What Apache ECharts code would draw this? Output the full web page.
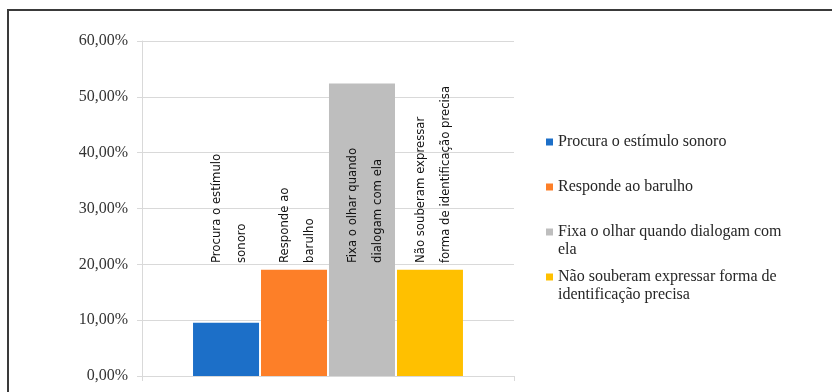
<!DOCTYPE html>
<html>
<head>
<meta charset="utf-8">
<script src="https://cdn.jsdelivr.net/npm/echarts@6/dist/echarts.min.js"></script>
<style>
    html, body { margin: 0; padding: 0; background: #fff; }
    #chart { width: 832px; height: 392px; }
</style>
</head>
<body>
<div id="chart"></div>
<script>
const categories = [''];
const seriesNames = [
    'Procura o estímulo sonoro',
    'Responde ao barulho',
    'Fixa o olhar quando dialogam com ela',
    'Não souberam expressar forma de identificação precisa'
];
const barLabels = [
    'Procura o estímulo\nsonoro',
    'Responde ao\nbarulho',
    'Fixa o olhar quando\ndialogam com ela',
    'Não souberam expressar\nforma de identificação precisa'
];
const values = [9.52, 19.05, 52.38, 19.05];
const yTicks = { min: 0, max: 60, interval: 10 };

const palette = ['#1c6fc8', '#fd7f28', '#bebebe', '#ffc000'];
const serif = "'Liberation Serif', 'Times New Roman', serif";
const narrow = "'DejaVu Sans Condensed', 'Liberation Sans Narrow', sans-serif";
const gridColor = '#d9d9d9';

const myChart = echarts.init(document.getElementById('chart'));

// one legend per item, so the rows keep the even spacing of the original.
// two-line items get a taller icon box with the square at its top,
// so the marker sits next to the first line
const legendTops = [133, 178, 223, 268];
const squareTop = 'path://M0,0L7,0L7,7L0,7Z M0,25L0,25';
const legends = seriesNames.map((name, i) => ({
    data: [name],
    orient: 'vertical',
    left: 546,
    top: legendTops[i],
    padding: 0,
    icon: i >= 2 ? squareTop : 'rect',
    itemWidth: 7,
    itemHeight: i >= 2 ? 25 : 7,
    selectedMode: false,
    textStyle: {
        fontFamily: serif,
        fontSize: 16,
        lineHeight: 18,
        color: '#262626',
        width: 235,
        overflow: 'break'
    }
}));

const option = {
    animation: false,
    color: palette,
    graphic: [{
        type: 'rect',
        shape: { x: 8, y: 10, width: 900, height: 500 },
        style: { fill: 'none', stroke: '#3a3a3a', lineWidth: 2 },
        silent: true
    }],
    grid: { left: 142, top: 41, width: 372, height: 335 },
    legend: legends,
    xAxis: {
        type: 'category',
        data: categories,
        axisLine: { lineStyle: { color: gridColor } },
        axisTick: { show: true, length: 5, lineStyle: { color: gridColor } },
        axisLabel: { show: false }
    },
    yAxis: {
        type: 'value',
        min: yTicks.min,
        max: yTicks.max,
        interval: yTicks.interval,
        axisLine: { show: true, lineStyle: { color: gridColor } },
        axisTick: { show: true, length: 5, lineStyle: { color: gridColor } },
        splitLine: { lineStyle: { color: gridColor } },
        axisLabel: {
            margin: 14,
            fontFamily: serif,
            fontSize: 16,
            color: '#333',
            formatter: v => v.toFixed(2).replace('.', ',') + '%'
        }
    },
    series: seriesNames.map((name, i) => ({
        name: name,
        type: 'bar',
        data: [values[i]],
        barWidth: 66,
        barGap: '3%',
        label: {
            show: true,
            position: 'insideBottom',
            distance: 113,
            rotate: 90,
            align: 'left',
            verticalAlign: 'middle',
            // offset is in the rotated frame: y moves the text sideways
            offset: [0, 3],
            formatter: barLabels[i],
            fontFamily: narrow,
            fontSize: 13,
            lineHeight: 25,
            color: '#111'
        }
    }))
};

myChart.setOption(option);
window.addEventListener('resize', () => myChart.resize());
</script>
</body>
</html>
